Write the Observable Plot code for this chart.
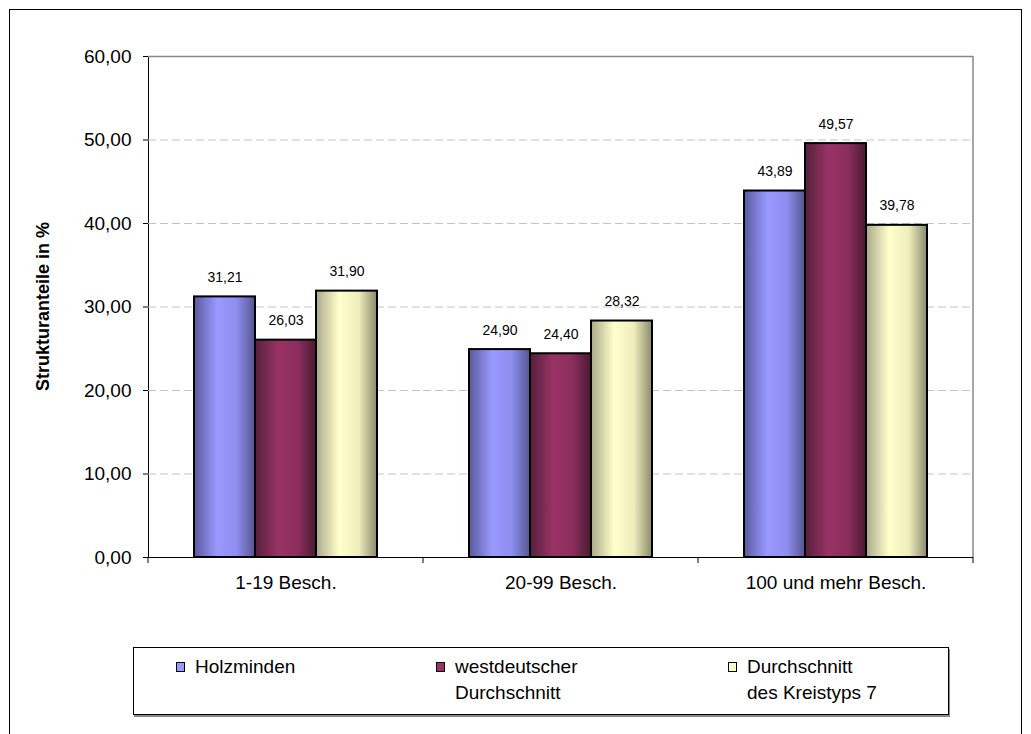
<!DOCTYPE html>
<html>
<head>
<meta charset="utf-8">
<script src="https://cdn.jsdelivr.net/npm/d3@7"></script>
<script src="https://cdn.jsdelivr.net/npm/@observablehq/plot@0.6"></script>
<style>
  html, body { margin: 0; padding: 0; background: #fff; }
  #wrap { position: relative; width: 1031px; height: 734px; overflow: hidden; font-family: "Liberation Sans", Arial, sans-serif; }
  #outer { position: absolute; left: 9px; top: 9px; width: 1011px; height: 760px; border: 1px solid #000; }
  #chart { position: absolute; left: 0; top: 0; }
  #legend { position: absolute; left: 133px; top: 647px; width: 814px; height: 66px; border: 1px solid #000; box-shadow: 1px 2px 0 #888; background: #fff; }
  .li { position: absolute; font-size: 19px; line-height: 26px; color: #000; white-space: nowrap; }
  .sw { position: absolute; width: 7px; height: 8px; border: 1.5px solid #000; }
</style>
</head>
<body>
<div id="wrap">
  <div id="outer"></div>
  <div id="chart"></div>
  <div id="legend"></div>
</div>
<script>
const categories = ["1-19 Besch.", "20-99 Besch.", "100 und mehr Besch."];
const series = ["Holzminden", "westdeutscher Durchschnitt", "Durchschnitt des Kreistyps 7"];
const legendLines = [["Holzminden"], ["westdeutscher", "Durchschnitt"], ["Durchschnitt", "des Kreistyps 7"]];
const holzminden = [31.21, 24.90, 43.89];
const westdeutsch = [26.03, 24.40, 49.57];
const kreistyp7 = [31.90, 28.32, 39.78];
const yTicks = [0, 10, 20, 30, 40, 50, 60];
const yTitle = "Strukturanteile in %";

const baseColors = ["#9999ff", "#993366", "#ffffcc"];
const gradStops = [
  [["0", "#5a5a9e"], ["0.38", "#9999ff"], ["0.7", "#8e8ef0"], ["1", "#55558f"]],
  [["0", "#55203b"], ["0.38", "#993366"], ["0.7", "#8c2e5d"], ["1", "#4a1a32"]],
  [["0", "#a9a98a"], ["0.38", "#ffffcc"], ["0.7", "#eeeebd"], ["1", "#8a8a6c"]]
];
const gradIds = ["gHolz", "gWest", "gKreis"];

const valuesBySeries = [holzminden, westdeutsch, kreistyp7];
const rows = [];
categories.forEach((c, ci) => {
  series.forEach((s, si) => {
    rows.push({category: c, series: s, value: valuesBySeries[si][ci], fillUrl: `url(#${gradIds[si]})`});
  });
});

const fmt = d => d3.format(".2f")(d).replace(".", ",");

const plot = Plot.plot({
  width: 1031,
  height: 620,
  marginLeft: 148,
  marginRight: 58,
  marginTop: 56,
  marginBottom: 63,
  style: {fontFamily: "'Liberation Sans', Arial, sans-serif", fontSize: "19px", color: "#000", background: "transparent"},
  facet: {data: rows, x: "category", marginLeft: 0, marginRight: 0},
  fx: {domain: categories, padding: 0, label: null, tickSize: 0, tickPadding: 18},
  x: {domain: series, paddingInner: 0, paddingOuter: 0.718, axis: null},
  y: {domain: [0, 60], ticks: yTicks, tickFormat: fmt, label: null, tickSize: 5, tickPadding: 12, line: true},
  color: {type: "identity"},
  marks: [
    Plot.ruleY(yTicks.filter(d => d > 0 && d < 60), {stroke: "#c4c4c4", strokeDasharray: "8,4", strokeWidth: 1}),
    Plot.ruleY([60], {stroke: "#888", strokeWidth: 1.5}),
    Plot.barY(rows, {x: "series", y: "value", fill: "fillUrl", stroke: "#000", strokeWidth: 2}),
    Plot.text(rows, {x: "series", y: "value", text: d => fmt(d.value), dy: -15, lineAnchor: "bottom", fontSize: 14, fill: "#000"}),
    Plot.ruleY([0], {stroke: "#000", strokeWidth: 1.2})
  ]
});

const svg = d3.select(plot);
const defs = svg.insert("defs", ":first-child");
gradIds.forEach((id, i) => {
  const g = defs.append("linearGradient").attr("id", id).attr("x1", "0").attr("x2", "1").attr("y1", "0").attr("y2", "0");
  gradStops[i].forEach(([o, c]) => g.append("stop").attr("offset", o).attr("stop-color", c));
});

const fx = plot.scale("fx");
const y = plot.scale("y");
const y0 = y.apply(0), y60 = y.apply(60);
const bounds = categories.map(c => fx.apply(c)).concat([fx.apply(categories[categories.length - 1]) + fx.bandwidth]);
const extra = svg.append("g");
// right frame line of the plotting area
extra.append("line")
  .attr("x1", bounds[bounds.length - 1]).attr("x2", bounds[bounds.length - 1])
  .attr("y1", y60).attr("y2", y0).attr("stroke", "#888").attr("stroke-width", 1.5);
// category boundary ticks
bounds.forEach(b => {
  extra.append("line").attr("x1", b).attr("x2", b).attr("y1", y0).attr("y2", y0 + 6).attr("stroke", "#000");
});
// y axis title
extra.append("text")
  .attr("transform", `translate(${bounds[0] - 105},${(y0 + y60) / 2}) rotate(-90)`)
  .attr("text-anchor", "middle")
  .attr("dominant-baseline", "central")
  .attr("font-weight", "bold")
  .attr("font-size", 18)
  .attr("fill", "#000")
  .text(yTitle);

document.getElementById("chart").appendChild(plot);

// legend
const legend = document.getElementById("legend");
const swX = [42, 302, 594];
const txX = [61, 321, 613];
legendLines.forEach((lines, i) => {
  const sw = document.createElement("div");
  sw.className = "sw";
  sw.style.left = swX[i] + "px";
  sw.style.top = "14px";
  sw.style.background = baseColors[i];
  legend.appendChild(sw);
  const t = document.createElement("div");
  t.className = "li";
  t.style.left = txX[i] + "px";
  t.style.top = "6px";
  t.innerHTML = lines.join("<br>");
  legend.appendChild(t);
});
</script>
</body>
</html>
